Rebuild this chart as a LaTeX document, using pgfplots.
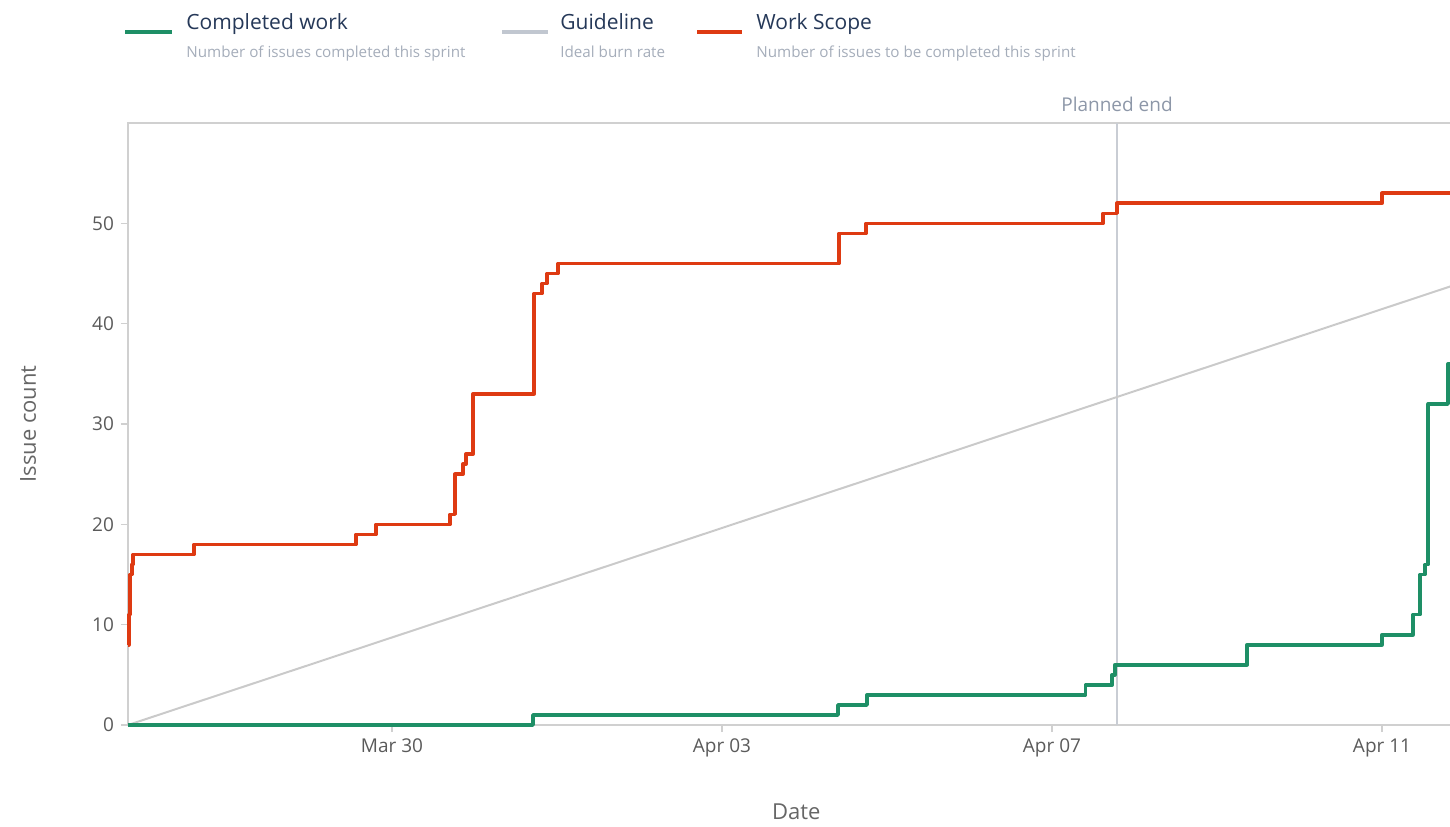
\documentclass[border=0pt]{standalone}
\usepackage{fontspec}
\setmainfont{Open Sans}
\usepackage{pgfplots}
\pgfplotsset{compat=1.18}
\definecolor{cgreen}{HTML}{1E8F66}
\definecolor{cred}{HTML}{DE3A12}
\definecolor{cguide}{HTML}{CACACA}
\definecolor{cguideleg}{HTML}{C1C7D0}
\definecolor{ctitle}{HTML}{253858}
\definecolor{csub}{HTML}{A5ADBA}
\definecolor{caxis}{HTML}{D0D0D0}
\definecolor{ctick}{HTML}{5A5A5A}
\definecolor{cplanned}{HTML}{C9CDD4}
\definecolor{cplannedtxt}{HTML}{8D97A8}
\begin{document}
\begin{tikzpicture}
\useasboundingbox (0,0) rectangle (725pt,413pt);
\clip (0,0) rectangle (725pt,413pt);
\begin{axis}[
  at={(64pt,50.5pt)}, anchor=south west,
  scale only axis, width=668.25pt, height=301pt,
  xmin=-3.2, xmax=13.0, ymin=0, ymax=60,
  xtick={0,4,8,12},
  xticklabels={Mar 30,Apr 03,Apr 07,Apr 11},
  ytick={0,10,20,30,40,50},
  xtick pos=bottom, ytick pos=left,
  tick align=outside, major tick length=3.5pt,
  tick style={draw=caxis, line width=0.7pt},
  axis line style={draw=caxis, line width=1pt},
  /pgf/number format/assume math mode=true,
  tick label style={font=\fontsize{9.5}{11}\selectfont, text=ctick},
  xlabel={Date}, ylabel={Issue count},
  label style={font=\fontsize{11}{13}\selectfont, text=black!60},
  x label style={at={(axis description cs:0.5,0)}, anchor=center, yshift=-43.5pt},
  y label style={at={(axis description cs:-0.0748,0.5)}, anchor=center},
  clip=false,
]
\addplot[cplanned, line width=0.8pt, forget plot] coordinates {(8.788,0) (8.788,60)};
\node[font=\fontsize{9.5}{11}\selectfont, text=cplannedtxt, anchor=center, yshift=9.5pt] at (axis cs:8.788,60) {Planned end};
\addplot[cguide, line width=1pt] coordinates {(-3.2,0) (13.0,44.18)};
\addplot[cred, line width=1.8pt, const plot, line join=round] table {
x y
-3.2 8
-3.19 11
-3.175 15
-3.155 16
-3.14 17
-2.40 18
-0.436 19
-0.194 20
0.703 21
0.764 25
0.861 26
0.897 27
0.982 33
1.721 43
1.818 44
1.879 45
2.012 46
5.418 49
5.745 50
8.618 51
8.788 52
12.00 53
13.0 53
};
\addplot[cgreen, line width=1.8pt, const plot, line join=round] table {
x y
-3.2 0
1.709 1
5.406 2
5.758 3
8.406 4
8.73 5
8.76 6
10.364 8
12.0 9
12.376 11
12.46 15
12.52 16
12.56 32
12.80 36
13.0 36
};
\end{axis}
% legend
\draw[cgreen, line width=1.6pt] (62.5pt,397pt) -- (86pt,397pt);
\node[anchor=base west, inner sep=0pt, text=ctitle, font=\fontsize{10.5}{12}\selectfont] at (93pt,398pt) {Completed work};
\node[anchor=base west, inner sep=0pt, text=csub, font=\fontsize{7.6}{9}\selectfont] at (93pt,384pt) {Number of issues completed this sprint};
\draw[cguideleg, line width=1.6pt] (251pt,397pt) -- (274pt,397pt);
\node[anchor=base west, inner sep=0pt, text=ctitle, font=\fontsize{10.5}{12}\selectfont] at (280pt,398pt) {Guideline};
\node[anchor=base west, inner sep=0pt, text=csub, font=\fontsize{7.6}{9}\selectfont] at (280pt,384pt) {Ideal burn rate};
\draw[cred, line width=1.6pt] (348.5pt,397pt) -- (371pt,397pt);
\node[anchor=base west, inner sep=0pt, text=ctitle, font=\fontsize{10.5}{12}\selectfont] at (378pt,398pt) {Work Scope};
\node[anchor=base west, inner sep=0pt, text=csub, font=\fontsize{7.6}{9}\selectfont] at (378pt,384pt) {Number of issues to be completed this sprint};
\end{tikzpicture}
\end{document}
